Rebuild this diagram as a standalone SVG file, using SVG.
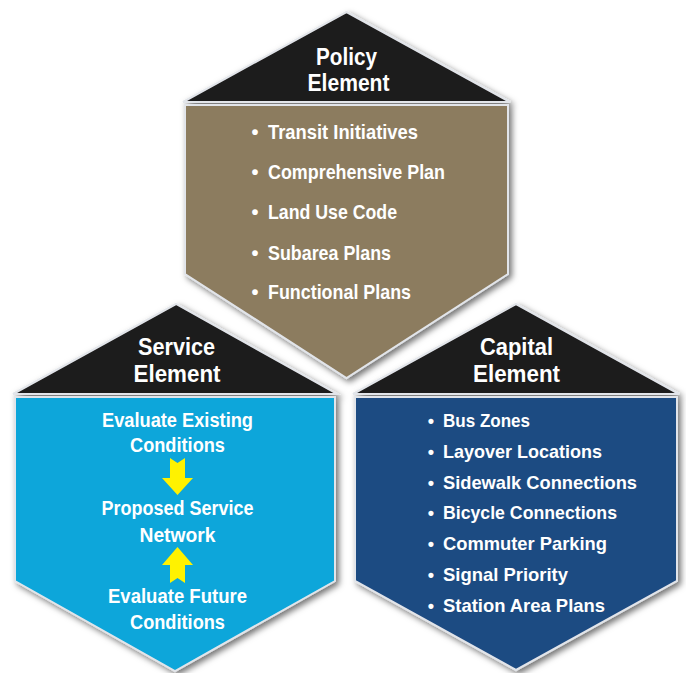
<svg xmlns="http://www.w3.org/2000/svg" width="686" height="673" viewBox="0 0 686 673">
<defs>
<filter id="sh" x="-10%" y="-10%" width="125%" height="125%">
<feDropShadow dx="3" dy="3" stdDeviation="3" flood-color="#000" flood-opacity="0.55"/>
</filter>
<style>
.hex{filter:url(#sh)}
.tri{fill:#1c1a1a;stroke:#e2e5ea;stroke-width:2;stroke-linejoin:miter}
.pol{fill:#8c7b5e;stroke:#e2e5ea;stroke-width:2}
.srv{fill:#0aa6da;stroke:#e2e5ea;stroke-width:2}
.cap{fill:#1f4b82;stroke:#e2e5ea;stroke-width:2}
text{font-family:"Liberation Sans",Arial,sans-serif;font-weight:bold;fill:#fff}
.t{font-size:24px;text-anchor:middle}
.p{font-size:21px}
.c{font-size:19px}
.s{font-size:20px;text-anchor:middle}
.bp{font-size:20px;text-anchor:middle}
.bc{font-size:18px;text-anchor:middle}
.arr{fill:#fff200}
</style>
</defs>
<rect width="686" height="673" fill="#fff"/>
<g id="policy">
<g class="hex">
<path class="tri" d="M183,102 L346.5,12 L510,102 Z"/>
<path class="pol" d="M185,105 L508,105 L508,274 L346.5,378 L185,274 Z"/>
</g>
<text class="t" x="346.5" y="65" textLength="61" lengthAdjust="spacingAndGlyphs">Policy</text>
<text class="t" x="348.5" y="91" textLength="82" lengthAdjust="spacingAndGlyphs">Element</text>
<text class="bp" x="255" y="139">•</text>
<text class="p" x="268" y="139" textLength="150" lengthAdjust="spacingAndGlyphs">Transit Initiatives</text>
<text class="bp" x="255" y="179">•</text>
<text class="p" x="268" y="179" textLength="177" lengthAdjust="spacingAndGlyphs">Comprehensive Plan</text>
<text class="bp" x="255" y="219">•</text>
<text class="p" x="268" y="219" textLength="129" lengthAdjust="spacingAndGlyphs">Land Use Code</text>
<text class="bp" x="255" y="260">•</text>
<text class="p" x="268" y="260" textLength="123" lengthAdjust="spacingAndGlyphs">Subarea Plans</text>
<text class="bp" x="255" y="299">•</text>
<text class="p" x="268" y="299" textLength="143" lengthAdjust="spacingAndGlyphs">Functional Plans</text>
</g>
<g id="service">
<g class="hex">
<path class="tri" d="M13,394 L176,304 L337,394 Z"/>
<path class="srv" d="M15,397 L335,397 L335,581 L175,671 L15,581 Z"/>
</g>
<text class="t" x="176.5" y="355" textLength="77" lengthAdjust="spacingAndGlyphs">Service</text>
<text class="t" x="177" y="382" textLength="87" lengthAdjust="spacingAndGlyphs">Element</text>
<text class="s" x="177.5" y="427" textLength="151" lengthAdjust="spacingAndGlyphs">Evaluate Existing</text>
<text class="s" x="177.5" y="452" textLength="95" lengthAdjust="spacingAndGlyphs">Conditions</text>
<text class="s" x="177.5" y="515" textLength="152" lengthAdjust="spacingAndGlyphs">Proposed Service</text>
<text class="s" x="177.5" y="542" textLength="76" lengthAdjust="spacingAndGlyphs">Network</text>
<text class="s" x="177.5" y="603" textLength="139" lengthAdjust="spacingAndGlyphs">Evaluate Future</text>
<text class="s" x="177.5" y="629" textLength="95" lengthAdjust="spacingAndGlyphs">Conditions</text>
</g>
<g id="capital">
<g class="hex">
<path class="tri" d="M353,394 L516,304 L679,394 Z"/>
<path class="cap" d="M355,397 L677,397 L677,581 L516,670 L355,581 Z"/>
</g>
<text class="t" x="516.5" y="355" textLength="73" lengthAdjust="spacingAndGlyphs">Capital</text>
<text class="t" x="516.5" y="382" textLength="87" lengthAdjust="spacingAndGlyphs">Element</text>
<text class="bc" x="431" y="427">•</text>
<text class="c" x="443" y="427" textLength="87" lengthAdjust="spacingAndGlyphs">Bus Zones</text>
<text class="bc" x="431" y="458">•</text>
<text class="c" x="443" y="458" textLength="159" lengthAdjust="spacingAndGlyphs">Layover Locations</text>
<text class="bc" x="431" y="489">•</text>
<text class="c" x="443" y="489" textLength="194" lengthAdjust="spacingAndGlyphs">Sidewalk Connections</text>
<text class="bc" x="431" y="519">•</text>
<text class="c" x="443" y="519" textLength="174" lengthAdjust="spacingAndGlyphs">Bicycle Connections</text>
<text class="bc" x="431" y="550">•</text>
<text class="c" x="443" y="550" textLength="164" lengthAdjust="spacingAndGlyphs">Commuter Parking</text>
<text class="bc" x="431" y="581">•</text>
<text class="c" x="443" y="581" textLength="125" lengthAdjust="spacingAndGlyphs">Signal Priority</text>
<text class="bc" x="431" y="612">•</text>
<text class="c" x="443" y="612" textLength="162" lengthAdjust="spacingAndGlyphs">Station Area Plans</text>
</g>
<g id="connectors">
<polygon class="arr" points="170,458 177.5,463 185,458 185,478 193,478 177.5,495 162,478 170,478"/>
<polygon class="arr" points="177.5,547 193,565 185,565 185,583 177.5,578 170,583 170,565 162,565"/>
</g>
</svg>
